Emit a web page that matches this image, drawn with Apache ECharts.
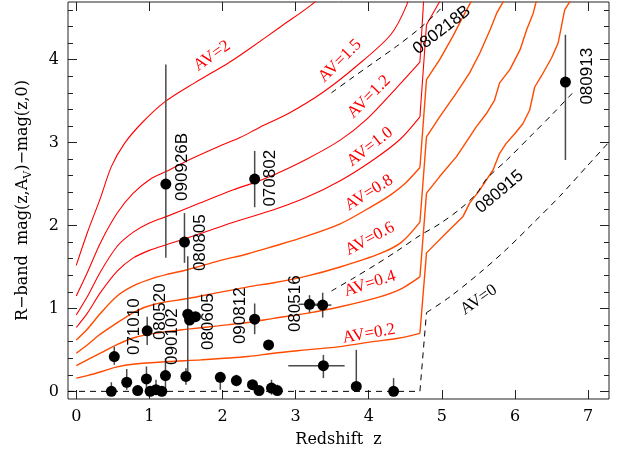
<!DOCTYPE html>
<html><head><meta charset="utf-8">
<script src="https://cdn.jsdelivr.net/npm/echarts@6/dist/echarts.min.js"></script>
<style>html,body{margin:0;padding:0;background:#fff}#c{width:627px;height:454px}</style>
</head><body><div id="c"></div>
<script>
// ---- model curves: R-band mag(z,Av)-mag(z,0) vs redshift ----
// low-redshift (smooth) parts
const av0Low  = [[-0.113,0],[4.70,0],[4.79,0.95]];
const av02Low = [[0,0.16],[0.15,0.19],[0.35,0.24],[0.53,0.29],[0.8,0.33],[1.26,0.36],[1.71,0.38],[2.35,0.42],[2.7,0.46],[3.15,0.50],[3.61,0.54],[4.06,0.60],[4.4,0.64],[4.70,0.70]];
const av04Low = [[0,0.31],[0.15,0.38],[0.35,0.47],[0.57,0.57],[0.8,0.65],[1.07,0.70],[1.53,0.75],[1.94,0.79],[2.35,0.83],[2.7,0.88],[3.15,0.94],[3.61,1.02],[4.15,1.14],[4.45,1.24],[4.70,1.38]];
const av06Low = [[0,0.46],[0.15,0.56],[0.3,0.67],[0.48,0.78],[0.8,0.96],[1.07,1.05],[1.53,1.12],[1.94,1.19],[2.35,1.26],[2.7,1.31],[3.15,1.39],[3.61,1.50],[4.15,1.66],[4.45,1.80],[4.70,2.04]];
const av08Low = [[0,0.62],[0.15,0.75],[0.33,0.94],[0.56,1.15],[0.8,1.28],[1.07,1.37],[1.24,1.41],[1.53,1.47],[1.94,1.57],[2.35,1.66],[2.7,1.75],[3.11,1.86],[3.61,2.02],[4.06,2.24],[4.3,2.37],[4.5,2.51],[4.70,2.70]];
const av10Low = [[0,0.77],[0.15,0.94],[0.33,1.19],[0.56,1.45],[0.78,1.61],[1.0,1.70],[1.24,1.77],[1.69,1.90],[2.15,2.04],[2.70,2.19],[3.15,2.34],[3.61,2.54],[4.06,2.79],[4.43,3.04],[4.70,3.31]];
const av12Low = [[0,0.92],[0.15,1.14],[0.33,1.44],[0.56,1.75],[0.78,1.92],[1.0,2.03],[1.24,2.11],[1.69,2.27],[2.15,2.43],[2.44,2.52],[2.70,2.61],[3.15,2.80],[3.61,3.03],[3.97,3.28],[4.38,3.66],[4.70,3.97]];
const av15Low = [[0,1.15],[0.15,1.43],[0.33,1.79],[0.56,2.15],[0.78,2.39],[1.03,2.57],[1.225,2.65],[1.49,2.77],[1.94,2.95],[2.24,3.06],[2.5,3.18],[2.92,3.36],[3.38,3.61],[3.83,3.92],[4.30,4.30],[4.52,4.66],[4.56,4.85]];
const av20Low = [[0,1.52],[0.15,1.91],[0.33,2.33],[0.48,2.71],[0.66,2.99],[0.89,3.23],[1.21,3.49],[1.62,3.72],[2.08,3.96],[2.35,4.12],[2.8,4.40],[3.27,4.70],[3.33,4.80]];
// jump at z~4.7 and high-redshift parts
const av0High  = [[4.79,0.95],[5.11,1.14],[5.52,1.43],[5.88,1.71],[6.25,2.03],[6.61,2.35],[6.98,2.71],[7.29,3.01]];
const av02High = [[4.70,0.70],[4.79,1.67],[5.06,1.91],[5.29,2.11],[5.38,2.27],[5.52,2.43],[5.70,2.67],[5.79,2.87],[5.88,2.99],[6.0,3.11],[6.11,3.23],[6.20,3.39],[6.27,3.67],[6.36,3.80],[6.50,4.02],[6.59,4.20],[6.68,4.60],[6.75,4.70],[6.80,4.85]];
const av04High = [[4.70,1.38],[4.79,2.39],[4.97,2.59],[5.20,2.83],[5.38,3.07],[5.47,3.19],[5.61,3.35],[5.72,3.51],[5.79,3.72],[5.93,3.88],[6.07,4.12],[6.16,4.36],[6.25,4.56],[6.29,4.70],[6.33,4.85]];
const av06High = [[4.70,2.04],[4.79,3.07],[4.97,3.31],[5.20,3.60],[5.38,3.84],[5.52,4.08],[5.66,4.36],[5.75,4.56],[5.84,4.70],[5.88,4.85]];
const av08High = [[4.70,2.70],[4.79,3.76],[4.97,4.00],[5.15,4.28],[5.29,4.52],[5.40,4.70],[5.45,4.85]];
const av10High = [[4.70,3.31],[4.79,4.42],[4.97,4.70],[5.0,4.75]];
const av12High = [[4.70,3.97],[4.76,4.85]];
// individual GRB limit curves (dashed)
const lim080218B = [[3.49,3.60],[3.74,3.76],[4.06,3.96],[4.38,4.16],[4.70,4.38],[4.97,4.60],[5.02,4.66]];
const lim080915  = [[3.49,1.21],[3.8,1.37],[4.1,1.53],[4.4,1.70],[4.70,1.88],[4.97,2.02],[5.25,2.20],[5.47,2.38],[5.61,2.56],[5.9,2.80],[6.25,3.11],[6.52,3.35],[6.79,3.60]];

// ---- GRB measurements ----
const grbZ   = [0.48,0.52,0.69,0.84,0.97,0.96,1.01,1.09,1.17,1.225,1.22,1.48,1.50,1.525,1.55,1.63,1.97,2.19,2.44,2.44,2.41,2.50,2.63,2.67,2.75,3.19,3.37,3.38,3.83,4.34,6.69];
const grbMag = [0.00,0.42,0.11,0.01,0.73,0.15,0.00,0.02,0.00,2.50,0.19,1.80,0.18,0.93,0.86,0.90,0.17,0.13,2.56,0.87,0.08,0.01,0.56,0.04,0.01,1.05,1.04,0.31,0.06,0.00,3.73];
const magLo  = [0.00,0.32,0.02,0.01,0.56,0.00,0.00,-0.04,0.00,1.61,0.02,1.55,0.08,0.15,0.86,0.90,0.02,0.06,2.22,0.69,0.08,0.01,0.56,-0.04,-0.04,0.95,0.89,0.16,0.00,0.00,2.79];
const magHi  = [0.11,0.54,0.27,0.01,0.90,0.30,0.00,0.14,0.00,3.94,0.40,2.15,0.28,1.63,0.86,0.90,0.22,0.20,2.90,1.06,0.08,0.01,0.56,0.14,0.08,1.16,1.19,0.44,0.50,0.16,4.30];
const zLo    = [0.48,0.52,0.69,0.84,0.97,0.96,1.01,1.09,1.17,1.225,1.22,1.48,1.50,1.525,1.55,1.63,1.97,2.19,2.44,2.44,2.41,2.50,2.63,2.67,2.75,3.04,3.25,2.90,3.83,4.34,6.69];
const zHi    = [0.48,0.52,0.69,0.84,0.97,0.96,1.01,1.09,1.17,1.225,1.22,1.48,1.50,1.525,1.55,1.63,1.97,2.19,2.44,2.44,2.41,2.50,2.63,2.67,2.75,3.33,3.49,3.67,3.83,4.34,6.69];

// ---- annotations ----
const grbLabelText = ['090926B','070802','080805','080605','090812','071010','080520','090102','080516','080913','080915','080218B'];
const grbLabelZ    = [1.448,2.65,1.694,1.803,2.24,0.792,1.148,1.311,2.992,6.995,5.79,5.0];
const grbLabelMag  = [2.707,2.57,1.792,0.84,0.912,0.78,0.96,0.66,1.057,3.80,2.406,4.357];
const grbLabelRot  = [90,90,90,90,90,90,90,90,90,90,40,38];
const avLabelText = ['AV=2','AV=1.5','AV=1.2','AV=1.0','AV=0.8','AV=0.6','AV=0.4','AV=0.2','AV=0'];
const avLabelZ    = [1.858,3.607,4.003,4.016,4.003,4.016,4.016,4.003,5.505];
const avLabelMag  = [4.045,3.985,3.551,2.948,2.394,1.84,1.298,0.695,1.105];
const avLabelRot  = [35,45,45,38,32,28,18,10,35];

// ---- ticks ----
const xTicks = [0,1,2,3,4,5,6,7];
const yTicks = [0,1,2,3,4];
const yMinor = [0.2,0.4,0.6,0.8,1.2,1.4,1.6,1.8,2.2,2.4,2.6,2.8,3.2,3.4,3.6,3.8,4.2,4.4,4.6];

const X_MIN = -0.113, X_MAX = 7.286, Y_MIN = -0.092, Y_MAX = 4.695;
const RED = '#ff0000', ORANGE = '#ff4a00';
const serif = 'DejaVu Serif';

function curve(data, color, width, dashed, smooth) {
  const s = {type:'line', data:data, showSymbol:false, symbol:'none', silent:true, clip:true, z:2,
    smooth: smooth ? 0.3 : false,
    lineStyle:{color:color, width:width, type: dashed ? [6,5] : 'solid', opacity:1}, animation:false};
  return s;
}

const errData = grbZ.map((z,i)=>[z, grbMag[i], magLo[i], magHi[i], zLo[i], zHi[i]]);

const chart = echarts.init(document.getElementById('c'), null, {renderer:'canvas'});
const tickStyle = {color:'#222', width:1};
function xAx(pos, labels) {
  return {type:'value', position:pos, min:X_MIN, max:X_MAX,
    axisLine:{show:false, onZero:false}, splitLine:{show:false},
    axisTick:{show:true, inside:true, length:9, customValues:xTicks, lineStyle:tickStyle},
    axisLabel: labels ? {show:true, customValues:xTicks, margin:10, fontFamily:serif, fontSize:16, color:'#000'} : {show:false},
    name: labels ? 'Redshift  z' : '', nameLocation:'middle', nameGap:33,
    nameTextStyle:{fontFamily:serif, fontSize:16, color:'#000'}};
}
function yAx(pos, vals, len, labels) {
  return {type:'value', position:pos, min:Y_MIN, max:Y_MAX,
    axisLine:{show:false, onZero:false}, splitLine:{show:false},
    axisTick:{show:true, inside:true, length:len, customValues:vals, lineStyle:tickStyle},
    axisLabel: labels ? {show:true, customValues:yTicks, margin:9, fontFamily:serif, fontSize:16, color:'#000'} : {show:false},
    name: labels ? '{a|R−band  mag(z,A}{s|V}{a|)−mag(z,0)}' : '',
    nameLocation:'middle', nameGap:34, nameRotate:90,
    nameTextStyle:{color:'#000', rich:{
      a:{fontFamily:serif, fontSize:16, lineHeight:22, color:'#000'},
      s:{fontFamily:serif, fontSize:11, lineHeight:11, verticalAlign:'bottom', color:'#000'}}}};
}

function labelSeries(texts, zs, mags, rots, font, colorFn) {
  return {type:'scatter', z:6, silent:true, symbolSize:1, itemStyle:{color:'rgba(0,0,0,0)', opacity:1},
    data: texts.map((t,i)=>({value:[zs[i], mags[i]],
      label:{show:true, formatter:t, position:'inside', rotate:rots[i], align:'center', verticalAlign:'middle',
        fontFamily:font, fontSize:17, color:colorFn(t), opacity:1}}))};
}

const option = {
  animation:false,
  backgroundColor:'#fff',
  grid:{left:68, right:18, top:2, bottom:55, show:true, borderColor:'#222', borderWidth:1, outerBoundsMode:'none'},
  xAxis:[xAx('bottom', true), xAx('top', false)],
  yAxis:[yAx('left', yTicks, 9, true), yAx('left', yMinor, 5, false), yAx('right', yTicks, 9, false), yAx('right', yMinor, 5, false)],
  series:[
    curve(av0Low, '#000', 1, true, false),
    curve(av0High, '#000', 1, true, true),
    curve(av02Low, ORANGE, 1.4, false, true),
    curve(av04Low, ORANGE, 1.4, false, true),
    curve(av06Low, ORANGE, 1.4, false, true),
    curve(av08Low, ORANGE, 1.4, false, true),
    curve(av10Low, RED, 1.1, false, true),
    curve(av12Low, RED, 1.1, false, true),
    curve(av15Low, RED, 1.1, false, true),
    curve(av20Low, RED, 1.1, false, true),
    curve(av02High, ORANGE, 1.4, false, false),
    curve(av04High, ORANGE, 1.4, false, false),
    curve(av06High, ORANGE, 1.4, false, false),
    curve(av08High, ORANGE, 1.4, false, false),
    curve(av10High, RED, 1.1, false, false),
    curve(av12High, RED, 1.1, false, false),
    curve(lim080218B, '#000', 1, true, true),
    curve(lim080915, '#000', 1, true, true),
    {type:'custom', data:errData, z:3, silent:true, clip:true,
      encode:{x:0, y:1},
      renderItem:function(params, api){
        const x=api.value(0), ylo=api.value(2), yhi=api.value(3), y=api.value(1), xlo=api.value(4), xhi=api.value(5);
        const children=[];
        const st={stroke:'#4a4a4a', lineWidth:1.5};
        if (yhi !== ylo) {
          const a=api.coord([x,ylo]), b=api.coord([x,yhi]);
          children.push({type:'line', shape:{x1:a[0],y1:a[1],x2:b[0],y2:b[1]}, style:st});
        }
        if (xhi !== xlo) {
          const a=api.coord([xlo,y]), b=api.coord([xhi,y]);
          children.push({type:'line', shape:{x1:a[0],y1:a[1],x2:b[0],y2:b[1]}, style:st});
        }
        return {type:'group', children:children};
      }},
    {type:'scatter', data:grbZ.map((z,i)=>[z, grbMag[i]]), symbol:'circle', symbolSize:11, z:4, silent:true,
      itemStyle:{color:'#000', opacity:1}},
    labelSeries(grbLabelText, grbLabelZ, grbLabelMag, grbLabelRot, 'Liberation Sans', ()=>'#000'),
    labelSeries(avLabelText, avLabelZ, avLabelMag, avLabelRot, 'Liberation Serif', t=> t==='AV=0' ? '#000' : RED)
  ]
};
chart.setOption(option);
</script></body></html>
